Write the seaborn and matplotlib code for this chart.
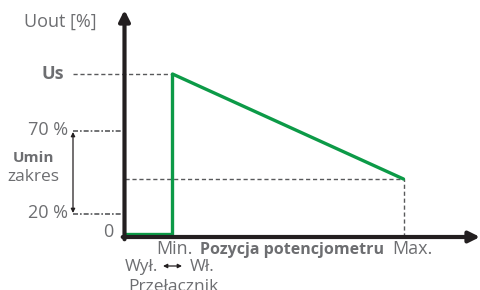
import matplotlib

matplotlib.use("Agg")
import matplotlib.pyplot as plt
import pandas as pd
import seaborn as sns

# schematic units: origin at the axes crossing
pos_x = [1, 48, 48, 279]          # Wył. start, Min., Min., Max.
u_out = [2.5, 2.5, 163, 58]       # output curve
x_min, x_max = 48, 279
y_us, y_70, y_20, y_end = 163, 106, 23, 58
tick_labels = ["70 %", "20 %"]

GREEN = "#0c9a47"
DARK = "#231f20"
GREY = "#6d6e71"
DASH = "#58595b"

sns.set_theme(style="white")
plt.rcParams["font.family"] = ["Open Sans", "DejaVu Sans"]

fig = plt.figure(figsize=(4.8, 2.9), dpi=100)
ax = fig.add_axes([124.5 / 480, 53 / 290, 355.5 / 480, 227 / 290])
ax.set_xlim(0, 355.5)
ax.set_ylim(0, 227)
ax.set_axis_off()

# helper dashed guides
dash_kw = dict(color=DASH, lw=1.0, dashes=(3, 2), clip_on=False)
ax.plot([-52, x_min], [y_us, y_us], **dash_kw)
ax.plot([0, x_max], [y_end, y_end], **dash_kw)
ax.plot([x_max, x_max], [0, y_end], **dash_kw)
dd_kw = dict(color=DASH, lw=1.2, dashes=(3, 1.2, 1, 1.2), clip_on=False)
ax.plot([-51.5, -2.5], [y_70, y_70], **dd_kw)
ax.plot([-51.5, -2.5], [y_20, y_20], **dd_kw)

# output curve
df = pd.DataFrame({"pos": pos_x, "u": u_out})
sns.lineplot(data=df, x="pos", y="u", sort=False, estimator=None,
             color=GREEN, lw=2.4, ax=ax, clip_on=False)

# axes arrows
arrow_kw = dict(arrowstyle="-|>", lw=3.0, color=DARK, mutation_scale=16,
                shrinkA=0, shrinkB=0)
ax.annotate("", xy=(0, 1), xytext=(0, -0.01), xycoords="axes fraction",
            arrowprops=arrow_kw, annotation_clip=False)
ax.annotate("", xy=(1, 0), xytext=(-0.005, 0), xycoords="axes fraction",
            arrowprops=arrow_kw, annotation_clip=False)

# range arrow between 20 % and 70 %, switch arrow under Min.
thin = dict(arrowstyle="<|-|>", lw=0.9, color=DARK, mutation_scale=6,
            shrinkA=0, shrinkB=0)
ax.annotate("", xy=(-51.5, y_20 + 1), xytext=(-51.5, y_70 - 1),
            arrowprops=thin, annotation_clip=False)
ax.annotate("", xy=(57.5, -29), xytext=(38.5, -29),
            arrowprops=thin, annotation_clip=False)

txt = dict(color=GREY, fontsize=13, va="center")
ax.text(-64, 215, "Uout [%]", ha="center", **txt)
ax.text(-61, y_us, "Us", ha="right", fontweight="bold", **txt)
ax.text(-56.5, y_70 + 1, tick_labels[0], ha="right", **txt)
ax.text(-56.5, y_20 + 1, tick_labels[1], ha="right", **txt)
ax.text(-16.5, 5, "0", ha="center", **txt)
ax.text(-91, 79, "Umin", ha="center", color=GREY, fontsize=11,
        fontweight="bold", va="center")
ax.text(-91, 60, "zakres", ha="center", color=GREY, fontsize=12.5,
        va="center")
ax.text(31.5, -12, "Min.", ha="left", **txt)
ax.text(288, -12, "Max.", ha="center", **txt)
ax.text(167, -13, "Pozycja potencjometru", ha="center", color=GREY,
        fontsize=11.5, fontweight="bold", va="center")
ax.text(16.5, -30, "Wył.", ha="center", color=GREY, fontsize=12.3,
        va="center")
ax.text(78, -30, "Wł.", ha="center", color=GREY, fontsize=12.3, va="center")
ax.text(49, -50, "Przełacznik", ha="center", color=GREY, fontsize=12.5,
        va="center")

fig.savefig("out.png", dpi=100)
